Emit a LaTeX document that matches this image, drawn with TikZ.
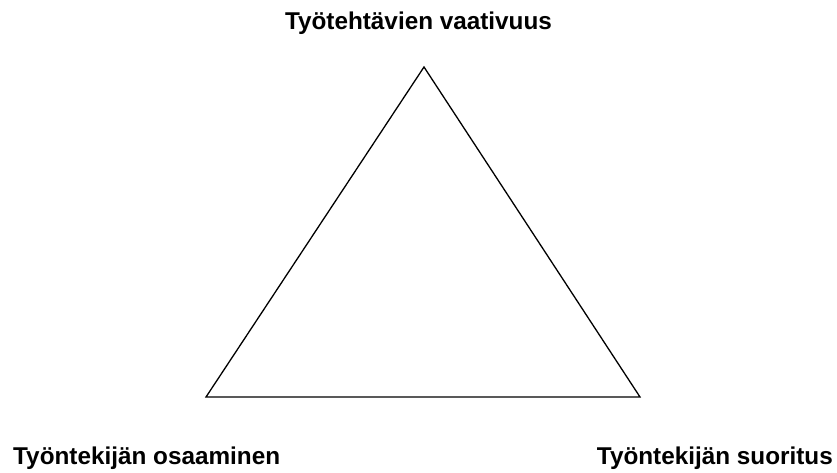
\documentclass[tikz,border=0pt]{standalone}
\usepackage{fontspec}
\setmainfont{Liberation Sans}
\begin{document}
\begin{tikzpicture}[x=1pt,y=-1pt,
  lbl/.style={font=\fontsize{24.3}{28}\selectfont\bfseries, inner sep=0pt, anchor=base},
  tri/.style={draw=black, line width=1.3pt, line join=miter}]
\useasboundingbox (0,0) rectangle (837,473);
\coordinate (t) at (424,67);
\coordinate (l) at (206,397);
\coordinate (r) at (640,397);
\draw[tri] (t) -- (l) -- (r) -- cycle;
\node[lbl] (top) at (418.5,30) {Työtehtävien vaativuus};
\node[lbl, anchor=base west] (left) at (13,464) {Työntekijän osaaminen};
\node[lbl, anchor=base east] (right) at (833,464) {Työntekijän suoritus};
\end{tikzpicture}
\end{document}
